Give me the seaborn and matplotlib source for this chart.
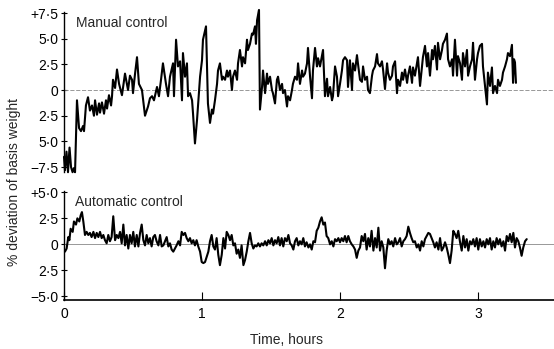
import numpy as np
import pandas as pd
import matplotlib
matplotlib.use("Agg")
import matplotlib.pyplot as plt
import seaborn as sns

# ---------------- data ----------------
manual_time = [
    0.000, 0.007, 0.018, 0.029, 0.040, 0.051, 0.062, 0.072, 0.080, 0.094,
    0.109, 0.123, 0.138, 0.145, 0.159, 0.174, 0.188, 0.203, 0.217, 0.225,
    0.239, 0.254, 0.261, 0.275, 0.290, 0.304, 0.312, 0.326, 0.341, 0.348,
    0.355, 0.370, 0.384, 0.399, 0.420, 0.442, 0.464, 0.478, 0.493, 0.500,
    0.514, 0.529, 0.543, 0.565, 0.587, 0.609, 0.623, 0.638, 0.652, 0.674,
    0.688, 0.703, 0.717, 0.739, 0.754, 0.768, 0.790, 0.797, 0.812, 0.826,
    0.841, 0.855, 0.862, 0.877, 0.891, 0.899, 0.913, 0.928, 0.935, 0.949,
    0.964, 0.971, 0.986, 1.000, 1.007, 1.029, 1.036, 1.043, 1.058, 1.072,
    1.080, 1.094, 1.109, 1.116, 1.130, 1.145, 1.152, 1.167, 1.181, 1.188,
    1.203, 1.217, 1.225, 1.239, 1.254, 1.261, 1.275, 1.290, 1.297, 1.312,
    1.326, 1.333, 1.348, 1.362, 1.370, 1.384, 1.391, 1.399, 1.413, 1.420,
    1.435, 1.442, 1.457, 1.471, 1.478, 1.493, 1.507, 1.514, 1.529, 1.543,
    1.551, 1.565, 1.580, 1.587, 1.601, 1.616, 1.623, 1.638, 1.652, 1.659,
    1.674, 1.688, 1.696, 1.710, 1.725, 1.732, 1.746, 1.761, 1.768, 1.783,
    1.797, 1.804, 1.819, 1.833, 1.841, 1.855, 1.870, 1.877, 1.891, 1.906,
    1.913, 1.928, 1.942, 1.949, 1.964, 1.978, 1.986, 2.000, 2.014, 2.022,
    2.036, 2.051, 2.058, 2.072, 2.087, 2.094, 2.109, 2.123, 2.130, 2.145,
    2.159, 2.167, 2.181, 2.196, 2.203, 2.217, 2.232, 2.239, 2.254, 2.268,
    2.275, 2.290, 2.304, 2.312, 2.326, 2.341, 2.348, 2.362, 2.377, 2.384,
    2.399, 2.413, 2.420, 2.435, 2.449, 2.457, 2.471, 2.486, 2.493, 2.507,
    2.522, 2.529, 2.543, 2.558, 2.565, 2.580, 2.594, 2.601, 2.616, 2.630,
    2.638, 2.652, 2.667, 2.674, 2.688, 2.703, 2.710, 2.725, 2.739, 2.746,
    2.761, 2.775, 2.783, 2.797, 2.812, 2.819, 2.833, 2.848, 2.855, 2.870,
    2.884, 2.891, 2.906, 2.920, 2.928, 2.942, 2.957, 2.964, 2.978, 2.993,
    3.000, 3.014, 3.029, 3.036, 3.051, 3.065, 3.072, 3.087, 3.101, 3.109,
    3.123, 3.138, 3.145, 3.159, 3.174, 3.181, 3.196, 3.210, 3.217, 3.232,
    3.246, 3.254, 3.261, 3.268, 3.275,
]
manual_dev = [
    -6.5, -7.8, -6.0, -8.0, -5.6, -7.5, -8.0, -7.6, -8.0, -1.0,
    -3.7, -4.0, -3.5, -4.0, -1.5, -0.7, -2.0, -1.5, -2.5, -1.0,
    -2.4, -1.3, -2.2, -1.2, -2.3, -1.0, -1.8, -0.5, -1.5, -0.6,
    1.0, 0.2, 2.0, 0.6, -0.5, 1.6, 0.0, 1.4, 1.0, -0.3,
    1.5, 3.2, 0.6, 0.0, -2.5, -1.6, -0.8, -0.6, -1.0, 0.3,
    -0.6, 1.0, 2.6, 0.6, -0.6, 1.3, 2.6, -0.6, 4.9, 2.3,
    2.8, -1.0, 3.6, 1.3, 2.6, -0.6, -0.3, -1.0, -2.3, -5.2,
    -2.9, -1.6, 1.3, 2.9, 4.9, 6.2, 2.3, -1.3, -3.2, -1.9,
    -2.3, -1.0, 0.6, 1.9, 2.6, 1.0, 1.3, 1.0, 1.9, 1.3,
    1.9, 0.0, 1.3, 1.9, 1.0, 2.6, 3.9, 2.3, 3.2, 2.6,
    4.9, 3.9, 4.5, 5.5, 5.4, 6.2, 4.5, 6.8, 7.8, -1.9,
    0.3, 1.9, -0.3, 1.6, 0.6, 1.3, 0.0, -0.3, -1.3, 1.0,
    1.3, 0.0, 0.6, -0.3, 0.0, -1.6, -0.6, -1.0, 0.0, 0.6,
    1.3, 1.0, 2.6, 0.6, 1.9, 1.3, 1.6, 2.6, 4.1, 1.3,
    -0.8, 1.9, 4.1, 2.3, 3.1, 2.3, 3.4, 3.9, -0.6, 1.1,
    -0.6, 0.3, -1.0, -0.6, 2.3, 1.3, -0.6, 0.6, 1.9, 2.9,
    3.2, 2.9, 0.3, 2.9, 0.0, 2.6, 1.9, 3.4, 2.6, 1.0,
    0.8, 2.3, 1.0, 1.3, 0.0, -0.3, 1.4, 1.9, 2.3, 3.5,
    2.6, 2.3, 2.8, 2.0, 0.1, 2.6, 1.7, 1.0, 1.4, 2.3,
    2.8, -0.3, 1.0, 0.4, 1.7, 1.0, 2.0, 0.7, 1.4, 2.3,
    0.7, 2.2, 1.4, 2.6, 3.2, 0.4, 2.3, 3.2, 4.3, 2.3,
    3.6, 1.4, 3.9, 3.0, 4.3, 2.0, 4.6, 3.0, 3.9, 4.5,
    4.9, 5.5, 3.0, 2.3, 3.0, 1.4, 4.9, 1.4, 3.3, 2.6,
    1.0, 3.6, 2.3, 3.9, 1.4, 2.3, 3.0, 4.6, 1.0, 3.0,
    3.6, 4.3, 4.5, 2.3, 0.4, -1.4, 1.7, 0.4, 2.2, -0.3,
    0.4, -0.3, 1.0, 0.4, 1.0, 1.7, 2.3, 3.0, 3.6, 3.3,
    4.4, 0.7, 3.0, 2.7, 0.7,
]

auto_time = [
    0.007, 0.019, 0.031, 0.039, 0.048, 0.063, 0.072, 0.087, 0.097, 0.111,
    0.121, 0.130, 0.140, 0.152, 0.164, 0.176, 0.188, 0.200, 0.213, 0.225,
    0.237, 0.249, 0.261, 0.273, 0.285, 0.297, 0.309, 0.321, 0.333, 0.345,
    0.357, 0.370, 0.382, 0.394, 0.406, 0.418, 0.430, 0.442, 0.454, 0.466,
    0.478, 0.490, 0.502, 0.514, 0.527, 0.539, 0.551, 0.563, 0.575, 0.587,
    0.599, 0.611, 0.623, 0.635, 0.647, 0.659, 0.671, 0.684, 0.696, 0.708,
    0.720, 0.732, 0.744, 0.756, 0.768, 0.780, 0.792, 0.804, 0.816, 0.829,
    0.841, 0.853, 0.865, 0.877, 0.889, 0.901, 0.913, 0.925, 0.937, 0.949,
    0.961, 0.973, 0.986, 0.998, 1.010, 1.022, 1.034, 1.046, 1.058, 1.070,
    1.082, 1.094, 1.106, 1.118, 1.130, 1.143, 1.155, 1.167, 1.179, 1.191,
    1.203, 1.215, 1.227, 1.239, 1.251, 1.263, 1.275, 1.287, 1.300, 1.312,
    1.324, 1.336, 1.348, 1.360, 1.372, 1.384, 1.396, 1.408, 1.420, 1.432,
    1.444, 1.457, 1.469, 1.481, 1.493, 1.505, 1.517, 1.529, 1.541, 1.553,
    1.565, 1.577, 1.589, 1.601, 1.614, 1.626, 1.638, 1.650, 1.662, 1.674,
    1.686, 1.698,
    1.710, 1.722, 1.734, 1.746, 1.758, 1.771, 1.783, 1.795, 1.807, 1.819,
    1.831, 1.843, 1.855, 1.867, 1.879, 1.891, 1.903, 1.915, 1.928, 1.940,
    1.952, 1.964, 1.976, 1.988, 2.000, 2.012, 2.024, 2.036, 2.048, 2.060,
    2.072, 2.085, 2.097, 2.109, 2.121, 2.133, 2.145, 2.157, 2.169, 2.181,
    2.193, 2.205, 2.217, 2.229, 2.242, 2.254, 2.266, 2.278, 2.290, 2.302,
    2.314, 2.326, 2.338, 2.350, 2.362, 2.374, 2.386, 2.399, 2.411, 2.423,
    2.435, 2.447, 2.459, 2.471, 2.483, 2.495, 2.507, 2.519, 2.531, 2.543,
    2.556, 2.568, 2.580, 2.592, 2.604, 2.616, 2.628, 2.640, 2.652, 2.664,
    2.676, 2.688, 2.700, 2.713, 2.725, 2.737, 2.749, 2.761, 2.773, 2.785,
    2.797, 2.809, 2.821, 2.833, 2.845, 2.857, 2.870, 2.882, 2.894, 2.906,
    2.918, 2.930, 2.942, 2.954, 2.966, 2.978, 2.990, 3.002, 3.014, 3.027,
    3.039, 3.051, 3.063, 3.075, 3.087, 3.099, 3.111, 3.123, 3.135, 3.147,
    3.159, 3.171, 3.184, 3.196, 3.208, 3.220, 3.232, 3.244, 3.256, 3.268,
    3.280, 3.292, 3.304, 3.316, 3.328, 3.341, 3.353,
]
auto_dev = [
    -0.7, -0.4, 0.7, 0.4, 1.5, 1.2, 2.2, 1.9, 2.5, 2.2,
    2.8, 3.1, 2.2, 0.9, 1.2, 0.9, 1.1, 0.7, 1.2, 0.6,
    1.1, 0.7, 1.2, 0.6, 0.9, 0.4, 0.1, 0.9, 0.3, 0.7,
    2.7, 0.4, 0.9, 0.6, 1.2, 0.1, 1.9, -0.1, 0.9, -0.4,
    0.9, 0.1, 1.2, -0.2, 0.9, -0.2, 1.1, 1.9, 0.4, -0.1,
    0.9, 0.1, 0.6, -0.2, 0.7, 0.9, 0.3, -0.1, 0.9, -0.2,
    -0.1, 0.3, 0.7, -0.2, 0.1, -0.5, -0.7, -0.4, -0.1, 0.3,
    -0.1, 1.2, 0.9, 1.1, 0.6, 0.3, 0.6, 0.1, 0.4, -0.1,
    0.4, -0.2, -0.7, -1.7, -1.8, -1.7, -1.2, -0.7, 0.3, 0.9,
    -0.2, -0.5, 0.6, -1.0, -2.0, -1.0, 0.6, -0.4, 1.2, 0.9,
    0.4, 0.9, -0.1, 0.1, -0.9, -0.5, -1.3, -0.1, -2.0, -1.5,
    -0.7, 0.3, 1.1, 0.1, -0.4, -0.1, -0.2, 0.1, -0.2, 0.1,
    -0.1, 0.3, -0.1, 0.4, 0.1, 0.6, -0.1, 0.4, 0.1, 0.7,
    -0.1, 0.6, -0.2, 0.6, 0.3, 0.9, 0.1, -0.1, -0.5, 0.3,
    0.6, -0.1,
    0.3, 0.0, 0.6, -0.2, 0.2, -0.3, 0.0, -0.5, 0.3, 0.2,
    1.3, 1.6, 2.2, 2.6, 1.9, 2.1, 0.8, 0.6, 0.0, 0.3,
    -0.2, 0.5, 0.3, 0.6, 0.2, 0.6, 0.3, 0.8, 0.2, 0.8,
    0.3, 0.0, -0.2, -0.5, -1.3, -0.6, -0.3, 0.8, 0.3, 1.0,
    -0.5, 0.6, -0.2, 1.3, -0.6, 0.6, -0.3, 1.6, -0.6, 0.3,
    -0.3, -2.3, -0.6, 0.5, 0.0, 0.3, -0.2, 0.6, 0.0, 0.2,
    0.6, -0.2, 0.3, 0.5, 0.8, 1.7, 1.1, 0.6, 0.2, 0.3,
    -0.3, 0.0, -0.6, 0.3, -0.2, 0.5, 0.8, 1.1, 1.0, 0.6,
    0.2, -0.3, 0.2, -0.5, 0.6, -0.6, -0.3, 0.2, -0.3, -1.0,
    -1.8, -0.6, 1.3, 1.0, 0.6, 1.3, 0.2, -0.6, 0.8, -0.3,
    0.5, -0.6, 0.3, 0.0, 0.5, -0.2, 0.6, -0.5, 0.5, -0.2,
    0.3, -0.3, 0.5, 0.0, 0.6, -0.5, 0.3, -0.3, 0.6, 0.0,
    0.5, -0.2, 0.3, -0.6, 0.8, 0.3, 1.0, 0.2, 1.1, -0.3,
    0.6, 0.3, -0.3, -1.1, -0.3, 0.3, 0.5,
]

manual_ticks = [-7.5, -5.0, -2.5, 0.0, 2.5, 5.0, 7.5]
manual_ticklabels = ["\u22127\u00b75", "5\u00b70", "2\u00b75", "0", "2\u00b75", "5\u00b70", "+7\u00b75"]
auto_ticks = [-5.0, -2.5, 0.0, 2.5, 5.0]
auto_ticklabels = ["\u22125\u00b70", "2\u00b75", "0", "2\u00b75", "+5\u00b70"]
x_ticks = [0, 1, 2, 3]
x_ticklabels = ["0", "1", "2", "3"]

panel_titles = ["Manual control", "Automatic control"]
x_label = "Time, hours"
y_label = "% deviation of basis weight"

# ---------------- style ----------------
sns.set_style("white")
plt.rcParams["font.family"] = ["Liberation Sans", "DejaVu Sans"]
plt.rcParams["font.size"] = 10

W, H = 554, 349
fig = plt.figure(figsize=(W / 100, H / 100), dpi=100)
fig.patch.set_facecolor("white")

X0, X1 = 64, 554
XMAX = (X1 - X0) / 138.0

ax_top = fig.add_axes([X0 / W, 1 - 172.2 / H, (X1 - X0) / W, 160.2 / H])
ax_bot = fig.add_axes([X0 / W, 1 - 300.0 / H, (X1 - X0) / W, 108.7 / H])

df_m = pd.DataFrame({"time": manual_time, "dev": manual_dev})
df_a = pd.DataFrame({"time": auto_time, "dev": auto_dev})

for ax in (ax_top, ax_bot):
    ax.axhline(0, color="#888888", lw=0.6, ls=(0, (5, 2)) if ax is ax_top else "-", zorder=1)

sns.lineplot(data=df_m, x="time", y="dev", ax=ax_top, color="black", lw=1.5,
             estimator=None, sort=False, zorder=3)
sns.lineplot(data=df_a, x="time", y="dev", ax=ax_bot, color="black", lw=1.5,
             estimator=None, sort=False, zorder=3)
for ax in (ax_top, ax_bot):
    for ln in ax.lines:
        ln.set_clip_on(False)

ax_top.set_xlim(0, XMAX)
ax_top.set_ylim(-8.0, 7.6)
ax_bot.set_xlim(0, XMAX)
ax_bot.set_ylim(-5.35, 5.1)

ax_top.set_yticks(manual_ticks)
ax_top.set_yticklabels(manual_ticklabels)
ax_bot.set_yticks(auto_ticks)
ax_bot.set_yticklabels(auto_ticklabels)
ax_top.set_xticks([])
ax_bot.set_xticks(x_ticks)
ax_bot.set_xticklabels(x_ticklabels)

for ax in (ax_top, ax_bot):
    ax.set_xlabel("")
    ax.set_ylabel("")
    ax.set_facecolor("white")
    for s in ("top", "right"):
        ax.spines[s].set_visible(False)
    ax.spines["left"].set_color("black")
    ax.spines["left"].set_linewidth(1.0)
    ax.tick_params(axis="y", direction="inout", length=5, width=0.8,
                   pad=1.5, labelsize=10, colors="black", left=True)
ax_top.spines["bottom"].set_visible(False)
ax_bot.spines["bottom"].set_color("black")
ax_bot.spines["bottom"].set_linewidth(1.2)
ax_bot.tick_params(axis="x", direction="in", length=6, width=0.8, pad=5,
                   labelsize=10, colors="black", bottom=True)

fig.text(76 / W, 1 - 23 / H, panel_titles[0], ha="left", va="center", fontsize=10)
fig.text(75 / W, 1 - 202 / H, panel_titles[1], ha="left", va="center", fontsize=10)
fig.text(286 / W, 1 - 340 / H, x_label, ha="center", va="center", fontsize=10)
fig.text(14 / W, 1 - 182 / H, y_label, ha="center", va="center", rotation=90, fontsize=10)

fig.savefig("out.png", dpi=100, facecolor="white")
